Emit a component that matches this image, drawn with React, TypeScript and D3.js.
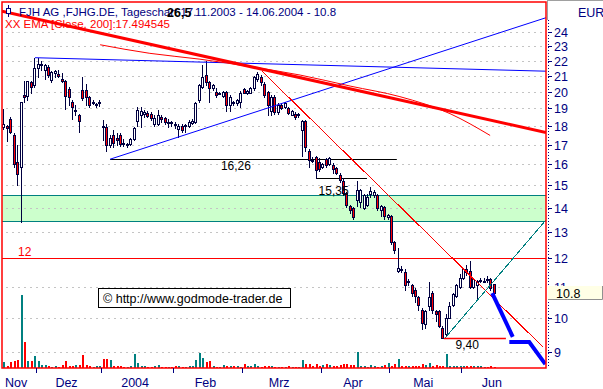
import React, { useEffect, useRef } from 'react';
import * as d3 from 'd3';

// daily candles FJH AG, 17.11.2003 .. 11.06.2004
const opens = [
  17.95, 18.0, 18.4, 17.5, 16.1, 15.9, 19.8, 19.75, 20.6, 20.4,
  21.5, 21.7, 21.4, 21.6, 20.75, 21.2, 21.1, 20.8, 20.7, 20.15,
  19.4, 18.85, 18.6, 20.1, 20.1, 19.7, 19.35, 19.2, 19.3, 18.0,
  17.95, 17.0, 17.5, 17.35, 17.5, 17.1, 17.0, 17.05, 17.3, 18.3,
  18.6, 18.7, 18.75, 18.7, 18.1, 18.1, 18.5, 18.45, 18.2, 18.2,
  18.1, 17.85, 18.0, 18.0, 18.0, 18.15, 18.2, 19.5, 20.3, 21.05,
  20.6, 20.2, 20.0, 19.9, 19.75, 20.0, 19.2, 19.4, 19.3, 19.4,
  20.15, 19.9, 19.95, 20.2, 20.8, 20.95, 20.5, 20.0, 18.85, 19.65,
  18.8, 19.2, 19.1, 19.0, 18.65, 18.7, 18.6, 17.8, 18.3, 16.7,
  16.2, 16.35, 16.1, 15.9, 16.25, 16.0, 15.95, 15.85, 15.5, 15.2,
  14.65, 14.1, 14.0, 14.35, 14.25, 14.0, 14.15, 14.6, 14.55, 14.55,
  13.9, 14.05, 13.6, 13.65, 12.6, 11.55, 11.62, 11.5, 11.15, 11.05,
  10.9, 10.65, 10.25, 9.8, 10.35, 10.8, 10.2, 10.2, 9.7, 9.5,
  10.0, 10.4, 10.7, 11.0, 11.3, 11.6, 11.55, 11.0, 11.05, 11.2,
  11.2, 11.25, 11.25, 11.1,
];
const highs = [
  18.95, 18.05, 18.5, 17.6, 17.0, 19.4, 20.7, 20.7, 20.65, 22.2,
  22.2, 22.0, 21.8, 21.7, 21.3, 21.4, 21.4, 21.2, 20.75, 20.3,
  19.5, 19.2, 18.7, 20.9, 20.5, 19.75, 19.5, 19.3, 19.5, 18.35,
  18.1, 17.5, 17.8, 17.6, 17.6, 17.3, 17.1, 17.35, 17.95, 19.1,
  19.1, 18.9, 18.85, 18.8, 18.6, 18.9, 18.6, 18.5, 18.4, 18.3,
  18.2, 18.1, 18.1, 18.1, 18.35, 18.4, 19.35, 20.5, 21.7, 22.0,
  20.7, 20.5, 20.2, 20.0, 20.05, 20.05, 19.8, 19.45, 19.55, 20.05,
  20.2, 20.1, 20.3, 21.0, 21.25, 21.05, 20.6, 20.05, 19.8, 19.8,
  19.3, 19.3, 19.35, 19.1, 18.9, 18.8, 18.75, 18.35, 18.35, 16.8,
  16.35, 16.4, 16.3, 16.05, 16.3, 16.35, 16.05, 15.9, 15.6, 15.35,
  14.7, 14.15, 14.05, 15.2, 14.85, 14.6, 14.6, 14.95, 14.8, 14.6,
  14.15, 14.1, 13.75, 13.7, 12.65, 12.4, 11.7, 11.6, 11.25, 11.1,
  10.95, 10.7, 10.3, 10.25, 11.15, 10.85, 10.25, 10.25, 9.75, 10.1,
  10.5, 10.8, 11.1, 11.45, 11.65, 11.75, 11.9, 11.3, 11.22, 11.3,
  11.28, 11.35, 11.3, 11.1,
];
const lows = [
  17.85, 17.2, 17.6, 15.9, 15.0, 13.4, 19.4, 19.5, 19.9, 20.3,
  20.9, 21.4, 20.8, 20.9, 20.6, 20.9, 20.9, 20.6, 18.95, 19.2,
  18.4, 18.6, 17.7, 19.5, 19.2, 19.1, 19.25, 19.1, 19.15, 17.25,
  16.7, 16.9, 16.9, 17.0, 16.95, 16.95, 16.9, 17.0, 17.25, 18.0,
  17.95, 18.5, 18.5, 18.35, 18.0, 18.05, 18.2, 18.1, 17.95, 18.0,
  17.9, 17.4, 17.7, 17.7, 17.95, 18.1, 18.15, 19.4, 20.2, 20.4,
  19.4, 20.1, 19.7, 19.85, 19.7, 18.85, 18.85, 19.2, 19.2, 19.1,
  19.9, 19.85, 19.9, 20.1, 20.7, 20.4, 19.7, 18.6, 18.6, 18.7,
  18.7, 18.95, 19.0, 18.7, 18.6, 18.4, 18.5, 16.4, 16.7, 15.9,
  16.1, 15.35, 15.7, 15.85, 15.9, 15.95, 15.6, 15.55, 15.15, 14.55,
  14.05, 13.8, 13.55, 14.1, 14.05, 13.95, 14.1, 14.5, 14.5, 13.9,
  13.65, 13.55, 13.55, 12.55, 12.2, 11.5, 11.5, 10.9, 11.05, 10.7,
  10.5, 10.25, 9.65, 9.7, 10.25, 10.15, 9.9, 9.72, 9.4, 9.45,
  9.98, 10.35, 10.65, 10.95, 11.25, 11.4, 10.95, 10.95, 10.55, 11.15,
  11.15, 11.15, 10.9, 10.75,
];
const closes = [
  18.1, 17.9, 17.7, 16.0, 15.55, 19.35, 19.65, 20.65, 20.3, 21.5,
  21.8, 21.8, 21.7, 21.05, 21.25, 21.3, 21.0, 20.7, 19.75, 19.7,
  19.1, 18.9, 18.3, 19.6, 19.7, 19.2, 19.4, 19.25, 19.35, 17.95,
  17.0, 17.35, 17.1, 17.25, 17.05, 17.05, 17.05, 17.3, 17.9, 18.9,
  18.85, 18.8, 18.55, 18.45, 18.45, 18.6, 18.4, 18.2, 18.25, 18.15,
  18.05, 18.0, 17.8, 18.05, 18.2, 18.3, 19.3, 20.4, 20.9, 20.6,
  20.2, 20.4, 19.8, 19.95, 20.0, 19.2, 19.7, 19.3, 19.5, 19.95,
  19.95, 20.05, 20.25, 20.9, 21.1, 20.6, 19.8, 19.2, 19.7, 18.8,
  19.2, 19.0, 19.3, 18.75, 18.85, 18.5, 18.7, 18.3, 16.9, 16.2,
  16.15, 15.75, 15.8, 16.0, 15.95, 16.3, 15.8, 15.6, 15.25, 14.65,
  14.15, 13.9, 13.6, 14.8, 14.8, 14.55, 14.5, 14.75, 14.7, 14.0,
  14.1, 13.65, 13.7, 12.6, 12.3, 11.65, 11.58, 11.05, 11.2, 10.8,
  10.7, 10.4, 9.85, 10.2, 10.65, 10.25, 10.1, 9.75, 9.4, 10.0,
  10.35, 10.75, 11.05, 11.3, 11.6, 11.5, 11.0, 11.25, 11.2, 11.22,
  11.2, 11.22, 10.95, 10.8,
];
// volume, thousand shares
const volumes = [
  23, 7, 23, 27, 33, 292, 103, 27, 27, 47,
  29, 13, 13, 7, 4, 9, 4, 13, 27, 7,
  9, 11, 13, 53, 13, 7, 4, 8, 7, 37,
  37, 33, 9, 9, 7, 4, 4, 9, 57, 20,
  9, 9, 4, 4, 7, 13, 4, 4, 4, 4,
  7, 9, 4, 4, 9, 7, 33, 60, 40, 23,
  27, 7, 4, 4, 13, 9, 7, 7, 7, 4,
  17, 7, 7, 16, 7, 4, 7, 9, 9, 4,
  4, 4, 4, 9, 4, 6, 6, 33, 17, 17,
  9, 17, 9, 13, 17, 12, 9, 9, 13, 17,
  17, 13, 12, 64, 7, 7, 4, 13, 7, 4,
  7, 13, 20, 9, 17, 36, 9, 9, 7, 7,
  9, 7, 16, 13, 20, 7, 13, 7, 9, 57,
  9, 7, 9, 9, 7, 9, 7, 7, 7, 7,
  4, 4, 9, 4,
];

const monthStarts = [10, 29, 50, 70, 93, 113, 134];
const monthLabels = ['Nov', 'Dez', '2004', 'Feb', 'Mrz', 'Apr', 'Mai', 'Jun'];
const priceTicks = d3.range(9, 25);

// drawn annotations: [day index, price]
const resistanceLine: [number, number][] = [[-0.4, 25.6], [158.2, 17.65]];
const resistanceLabel = 26.5;
const topLine: [number, number][] = [[9.2, 22.2], [158.2, 21.3]];
const supportLine: [number, number][] = [[31.1, 16.26], [158.2, 25.1]];
const downLine: [number, number][] = [[75.4, 21.3], [157.3, 9.14]];
const reboundLine: [number, number][] = [[128.8, 9.4], [158.2, 13.5]];
const projection1: [number, number][] = [[142.5, 10.78], [148.5, 9.43]];
const projection2: [number, number][] = [[147.5, 9.28], [153.3, 9.28], [158.0, 8.67]];
const ema200: [number, number][] = [
  [28.2, 23.1], [42.7, 22.5], [57.3, 22.1], [71.9, 21.6], [86.5, 21.05],
  [101.1, 20.35], [115.6, 19.7], [130.2, 18.7], [141.9, 17.49],
];
const emaLast = 17.494545;
const zoneBand = [13.45, 14.55];
const level12 = 12;
const level1626 = { value: 16.26, from: 31.1, to: 114.7 };
const level1535 = { value: 15.35, from: 91.4, to: 106 };
const level940 = { value: 9.4, from: 128.4, to: 146.5 };
const lastPrice = 10.8;

const NAVY = '#000080';
const RED = '#ff0000';
const TEAL = '#008080';
const FONT = '"Liberation Sans", Arial, sans-serif';
const comma = (v: number, digits = 2) => v.toFixed(digits).replace('.', ',');

export default function App() {
  const svgRef = useRef<SVGSVGElement>(null);

  useEffect(() => {
    document.body.style.margin = '0';
    if (!svgRef.current) return;
    const svg = d3.select(svgRef.current);
    svg.selectAll('*').remove();

    const left = 2, top = 2, right = 546, bottom = 368;

    const x = d3.scaleLinear().domain([0, 143]).range([3.4, 493.9]);
    const y = d3.scaleLog().domain([9, 24]).range([352, 32.3]);
    const vy = d3.scaleLinear().domain([0, 300]).range([bottom, bottom - 75]);
    const px = (i: number) => Math.round(x(i));
    const py = (v: number) => Math.round(y(v));

    svg.append('rect').attr('width', 603).attr('height', 389).attr('fill', '#fff');

    svg.append('clipPath').attr('id', 'plotclip')
      .append('rect').attr('x', left).attr('y', top)
      .attr('width', right - left).attr('height', bottom - top);

    const g = svg.append('g').attr('clip-path', 'url(#plotclip)');

    // green zone
    g.append('rect')
      .attr('x', left).attr('width', right - left)
      .attr('y', py(zoneBand[1])).attr('height', py(zoneBand[0]) - py(zoneBand[1]))
      .attr('fill', '#ccffcc');
    zoneBand.forEach(v => {
      g.append('line').attr('x1', left).attr('x2', right)
        .attr('y1', py(v) + 0.5).attr('y2', py(v) + 0.5)
        .attr('stroke', TEAL).attr('stroke-width', 1);
    });

    // dotted grid
    g.selectAll('line.grid').data(priceTicks).enter().append('line')
      .attr('x1', left + 4).attr('x2', right)
      .attr('y1', d => py(d) + 0.5).attr('y2', d => py(d) + 0.5)
      .attr('stroke', '#c4c4c4').attr('stroke-dasharray', '2,4');

    // volume
    const days = d3.range(closes.length);
    g.selectAll('rect.vol').data(days).enter().append('rect')
      .attr('x', i => px(i)).attr('width', 2)
      .attr('y', i => Math.round(vy(volumes[i])))
      .attr('height', i => bottom - Math.round(vy(volumes[i])))
      .attr('fill', i => (closes[i] >= opens[i] ? TEAL : RED))
      .attr('shape-rendering', 'crispEdges');

    // level 12
    g.append('line').attr('x1', left).attr('x2', right)
      .attr('y1', py(level12) + 0.5).attr('y2', py(level12) + 0.5)
      .attr('stroke', RED);
    svg.append('text').attr('x', 18).attr('y', py(level12) - 2)
      .attr('fill', RED).style('font', `12px ${FONT}`).text(String(level12));

    // black levels
    [level1626, level1535].forEach(l => {
      g.append('line').attr('x1', x(l.from)).attr('x2', x(l.to))
        .attr('y1', py(l.value) + 0.5).attr('y2', py(l.value) + 0.5)
        .attr('stroke', '#000');
    });
    svg.append('text').attr('x', x(67.8)).attr('y', py(level1626.value) + 11)
      .attr('text-anchor', 'middle').style('font', `12px ${FONT}`).text(comma(level1626.value));
    svg.append('text').attr('x', x(91.9)).attr('y', py(level1535.value) + 17)
      .style('font', `12px ${FONT}`).text(comma(level1535.value));

    const line = d3.line<[number, number]>().x(d => x(d[0])).y(d => y(d[1]));
    const drawLine = (pts: [number, number][], color: string, w: number) =>
      g.append('path').attr('d', line(pts)).attr('fill', 'none')
        .attr('stroke', color).attr('stroke-width', w);

    // candles
    const cg = g.selectAll('g.candle').data(days).enter().append('g');
    cg.append('line')
      .attr('x1', i => px(i) + 0.5).attr('x2', i => px(i) + 0.5)
      .attr('y1', i => py(highs[i])).attr('y2', i => py(lows[i]) + 1)
      .attr('stroke', '#000040');
    cg.append('rect')
      .attr('x', i => px(i) - 0.5).attr('width', 2)
      .attr('y', i => py(Math.max(opens[i], closes[i])) + 0.5)
      .attr('height', i => Math.max(1, py(Math.min(opens[i], closes[i])) - py(Math.max(opens[i], closes[i]))))
      .attr('fill', i => (closes[i] >= opens[i] ? '#fff' : RED))
      .attr('stroke', '#000040');

    // trend lines
    drawLine(topLine, '#0000ff', 1);
    drawLine(supportLine, '#0000ff', 1);
    g.append('path')
      .attr('d', d3.line<[number, number]>().x(d => x(d[0])).y(d => y(d[1])).curve(d3.curveMonotoneX)(ema200))
      .attr('fill', 'none').attr('stroke', RED).attr('stroke-width', 1);
    drawLine(resistanceLine, RED, 3);
    drawLine(downLine, RED, 1).attr('shape-rendering', 'crispEdges');
    drawLine(reboundLine, TEAL, 1).attr('shape-rendering', 'crispEdges');
    drawLine(projection1, '#0000ff', 4);
    drawLine(projection2, '#0000ff', 4);

    // 9,40 level
    g.append('line').attr('x1', x(level940.from)).attr('x2', x(level940.to))
      .attr('y1', py(level940.value) + 0.5).attr('y2', py(level940.value) + 0.5)
      .attr('stroke', RED).attr('stroke-width', 1.5);
    svg.append('text').attr('x', x(135.2)).attr('y', py(level940.value) + 11)
      .attr('text-anchor', 'middle').style('font', `12px ${FONT}`).text(comma(level940.value));

    // copyright box
    svg.append('rect').attr('x', 98.5).attr('y', 288.5).attr('width', 192).attr('height', 19)
      .attr('fill', '#fff').attr('stroke', '#000');
    svg.append('text').attr('x', 103).attr('y', 303)
      .style('font', `12.5px ${FONT}`).text('\u00a9 http://www.godmode-trader.de');

    // plot frame
    svg.append('rect').attr('x', left).attr('y', top)
      .attr('width', right - left).attr('height', bottom - top)
      .attr('fill', 'none').attr('stroke', RED).attr('stroke-width', 1.5);

    // right axis
    svg.append('line').attr('x1', 548.5).attr('x2', 548.5).attr('y1', 20).attr('y2', bottom)
      .attr('stroke', NAVY).attr('stroke-dasharray', '1,2');
    svg.append('line').attr('x1', 547.5).attr('x2', 547.5).attr('y1', 0).attr('y2', 20)
      .attr('stroke', '#a0a0a0');
    svg.append('line').attr('x1', 547).attr('x2', 603).attr('y1', 0.5).attr('y2', 0.5)
      .attr('stroke', '#a0a0a0');
    const ax = svg.append('g');
    ax.selectAll('line').data(priceTicks).enter().append('line')
      .attr('x1', 548).attr('x2', 552)
      .attr('y1', d => py(d) + 0.5).attr('y2', d => py(d) + 0.5)
      .attr('stroke', NAVY);
    ax.selectAll('text').data(priceTicks).enter().append('text')
      .attr('x', 554).attr('y', d => py(d) + 5)
      .attr('fill', NAVY).style('font', `12.5px ${FONT}`).text(d => String(d));
    svg.append('text').attr('x', 578).attr('y', 17)
      .attr('fill', NAVY).style('font', `12.5px ${FONT}`).text('EUR');

    // last price marker (covers the "11" label, as in the original)
    const ly = py(lastPrice);
    svg.append('rect').attr('x', 548).attr('y', ly - 7).attr('width', 54).attr('height', 13)
      .attr('fill', '#ffffe6');
    svg.append('path').attr('d', `M602.5,${ly - 7}V${ly + 6.5}H548`)
      .attr('fill', 'none').attr('stroke', '#909090');
    svg.append('text').attr('x', 556).attr('y', ly + 5)
      .attr('fill', '#000').style('font', `12.5px ${FONT}`).text(String(lastPrice));

    // bottom axis
    const bounds = [-0.9, ...monthStarts.map(m => m - 0.5), 152.5];
    svg.selectAll('line.mtick').data(monthStarts).enter().append('line')
      .attr('x1', m => Math.round(x(m - 0.5)) + 0.5).attr('x2', m => Math.round(x(m - 0.5)) + 0.5)
      .attr('y1', bottom).attr('y2', bottom + 5)
      .attr('stroke', NAVY);
    svg.selectAll('text.mlabel').data(monthLabels).enter().append('text')
      .attr('x', (_, k) => x((bounds[k] + bounds[k + 1]) / 2 - 0.6))
      .attr('y', 387).attr('text-anchor', 'middle')
      .attr('fill', NAVY).style('font', `12.5px ${FONT}`).text(d => d);

    // header
    const icon = svg.append('g').attr('stroke', NAVY);
    icon.append('line').attr('x1', 8.5).attr('x2', 8.5).attr('y1', 5).attr('y2', 17);
    icon.append('rect').attr('x', 6.5).attr('y', 8.5).attr('width', 4).attr('height', 5).attr('fill', '#fff');
    svg.append('text').attr('x', 19).attr('y', 16)
      .attr('fill', NAVY).style('font', `11.5px ${FONT}`).text('FJH AG ,FJHG.DE, Tageschart 17.');
    svg.append('text').attr('x', 195).attr('y', 16)
      .attr('fill', NAVY).style('font', `11.5px ${FONT}`).text('11.2003 - 14.06.2004 - 10.8');
    svg.append('text').attr('x', 167).attr('y', 17)
      .attr('fill', '#000').style('font', `bold 12.5px ${FONT}`).text(comma(resistanceLabel, 1));
    svg.append('text').attr('x', 5).attr('y', 28)
      .attr('fill', RED).style('font', `11.5px ${FONT}`).text(`XX EMA [Close, 200]:${emaLast}`);
  }, []);

  return <svg ref={svgRef} width={603} height={389} style={{ display: 'block' }} />;
}
